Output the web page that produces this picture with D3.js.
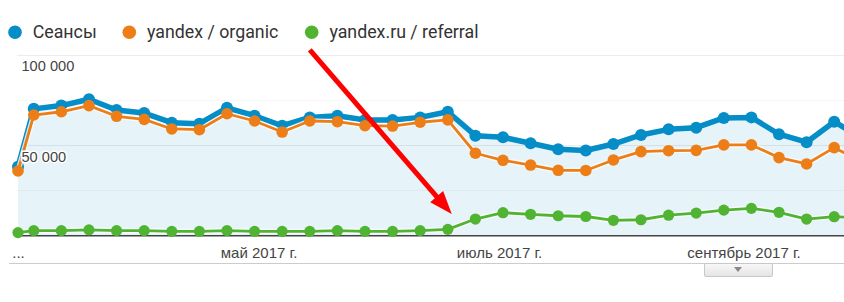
<!DOCTYPE html>
<html><head><meta charset="utf-8">
<script src="https://cdn.jsdelivr.net/npm/d3@7"></script>
<style>body{margin:0;background:#fff;overflow:hidden;} svg{display:block;}</style>
</head><body>
<svg id="c" width="844" height="302"></svg>
<script>
const dates = ["2017-03-01","2017-03-05","2017-03-12","2017-03-19","2017-03-26","2017-04-02","2017-04-09","2017-04-16",
  "2017-04-23","2017-04-30","2017-05-07","2017-05-14","2017-05-21","2017-05-28","2017-06-04","2017-06-11",
  "2017-06-18","2017-06-25","2017-07-02","2017-07-09","2017-07-16","2017-07-23","2017-07-30","2017-08-06",
  "2017-08-13","2017-08-20","2017-08-27","2017-09-03","2017-09-10","2017-09-17","2017-09-24","2017-10-01"];
const sessions = [38000,70000,71800,75300,69400,67700,62400,61800,70600,66200,60700,65300,66200,63900,63900,65300,
  68400,55200,54300,51000,47700,47000,50600,55600,58700,59600,65000,65300,56000,51600,62900,53900];
const organic = [35700,66600,68400,71800,65900,64200,58900,58500,67300,63300,57200,63300,62900,60700,60500,62600,
  63900,45500,41600,39000,36100,36000,41800,46400,46900,47100,50100,50100,43100,39600,48600,40800];
const referral = [1700,2800,2800,3200,2800,2800,2400,2400,2800,2400,2400,2400,2800,2400,2400,2800,
  3500,9200,12700,11800,11000,10600,8500,8800,11300,12500,14100,15100,12900,9200,10500,9800];
const seriesNames = ["Сеансы","yandex / organic","yandex.ru / referral"];
const seriesColors = ["#058dc7","#ed7e17","#50b432"];
const monthTicks = ["2017-03-01","2017-05-01","2017-07-01","2017-09-01"];
const monthLabels = ["...","май 2017 г.","июль 2017 г.","сентябрь 2017 г."];
const yTicks = [25000,50000,75000,100000];
const yLabels = ["","50 000","","100 000"];
const arrowFrom = ["2017-05-14",102500];
const arrowTo = ["2017-06-19",12000];

const parse = s => new Date(s + "T00:00:00Z");
const svg = d3.select("#c");
const W = 844;
const x = d3.scaleUtc().domain([parse("2017-03-01"), parse("2017-10-01")]).range([18, 861.8]);
const y = d3.scaleLinear().domain([0, 100000]).range([235.7, 54.5]);

const rows = dates.map((d,i)=>({d:parse(d), s:sessions[i], o:organic[i], r:referral[i]}));

// legend
const legX = [15, 129.3, 311.7];
const leg = svg.append("g");
seriesNames.forEach((n,i)=>{
  leg.append("circle").attr("cx",legX[i]).attr("cy",32.3).attr("r",6.8).attr("fill",seriesColors[i]);
  leg.append("text").attr("x",legX[i]+17.7).attr("y",38.2).text(n)
    .attr("font-family","Roboto, 'Open Sans', sans-serif").attr("font-size",17.8).attr("fill","#333");
});

// area
svg.append("path").datum(rows)
  .attr("d", d3.area().x(d=>x(d.d)).y0(y(0)).y1(d=>y(d.s)))
  .attr("fill","rgb(230,243,249)");

// gridlines
svg.append("g").selectAll("line").data(yTicks).join("line")
  .attr("x1",17).attr("x2",W).attr("y1",d=>Math.round(y(d))+0.5).attr("y2",d=>Math.round(y(d))+0.5)
  .attr("stroke","#000").attr("stroke-opacity",(d,i)=>yLabels[i] ? 0.075 : 0.035);

// baseline
svg.append("line").attr("x1",17).attr("x2",W).attr("y1",y(0)).attr("y2",y(0))
  .attr("stroke","#444").attr("stroke-width",1.6);

// x axis
const xAxis = d3.axisBottom(x).tickValues(monthTicks.map(parse))
  .tickFormat((d,i)=>monthLabels[i]).tickSize(0).tickPadding(0);
const gx = svg.append("g").attr("transform","translate(0,257.5)").call(xAxis);
gx.select(".domain").remove();
gx.selectAll("text").attr("dy",0).attr("font-family","'Liberation Sans', Arial, sans-serif")
  .attr("font-size",15).attr("fill","#444");

// lines and dots
function drawSeries(key, color, lw, r, halo){
  const line = d3.line().x(d=>x(d.d)).y(d=>y(d[key]));
  if (halo) svg.append("path").datum(rows).attr("d",line).attr("fill","none")
    .attr("stroke","#fff").attr("stroke-opacity",0.8).attr("stroke-width",lw+2.5).attr("stroke-linejoin","round");
  svg.append("path").datum(rows).attr("d",line).attr("fill","none")
    .attr("stroke",color).attr("stroke-width",lw).attr("stroke-linejoin","round");
  svg.append("g").selectAll("circle").data(rows).join("circle")
    .attr("cx",d=>x(d.d)).attr("cy",d=>y(d[key])).attr("r",r).attr("fill",color);
}
drawSeries("s", seriesColors[0], 5.5, 6, false);
drawSeries("o", seriesColors[1], 2.8, 5.8, true);
drawSeries("r", seriesColors[2], 2.8, 5.6, true);

// y labels
svg.append("g").selectAll("text").data(yTicks.filter((d,i)=>yLabels[i]))
  .join("text").attr("x",21.5).attr("y",d=>y(d)+16.7)
  .text(d=>yLabels[yTicks.indexOf(d)])
  .attr("font-family","'Liberation Sans', Arial, sans-serif").attr("font-size",14.6).attr("fill","#444")
  .attr("stroke","#fff").attr("stroke-width",3).attr("paint-order","stroke").attr("stroke-linejoin","round");

// annotation arrow
const ax0 = x(parse(arrowFrom[0])), ay0 = y(arrowFrom[1]);
const ax1 = x(parse(arrowTo[0])), ay1 = y(arrowTo[1]);
const dx = ax1-ax0, dy = ay1-ay0, L = Math.hypot(dx,dy), ux = dx/L, uy = dy/L;
const hl = 23, hw = 8.5;
const bx = ax1-ux*hl, by = ay1-uy*hl;
svg.append("line").attr("x1",ax0).attr("y1",ay0).attr("x2",bx+ux*2).attr("y2",by+uy*2)
  .attr("stroke","#f00").attr("stroke-width",5);
svg.append("path").attr("d",`M${ax1},${ay1}L${bx-uy*hw},${by+ux*hw}L${bx+uy*hw},${by-ux*hw}Z`).attr("fill","#f00");

// scroller
svg.append("line").attr("x1",9).attr("x2",W).attr("y1",263.5).attr("y2",263.5).attr("stroke","#ccc");
const grad = svg.append("defs").append("linearGradient").attr("id","bg").attr("x1",0).attr("x2",0).attr("y1",0).attr("y2",1);
grad.append("stop").attr("offset",0).attr("stop-color","#f8f8f8");
grad.append("stop").attr("offset",1).attr("stop-color","#e4e4e4");
svg.append("rect").attr("x",704.5).attr("y",263.5).attr("width",68).attr("height",13).attr("rx",1.5)
  .attr("fill","url(#bg)").attr("stroke","#c8c8c8");
svg.append("path").attr("d","M734,267L742,267L738,272Z").attr("fill","#888");
</script>
</body></html>
